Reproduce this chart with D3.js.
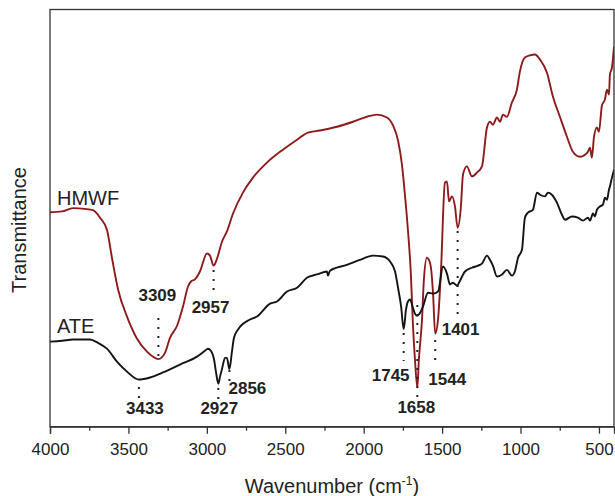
<!DOCTYPE html>
<html>
<head>
<meta charset="utf-8">
<script src="https://cdn.jsdelivr.net/npm/d3@7"></script>
<style>
  html, body { margin: 0; padding: 0; background: #fff; }
  svg { display: block; }
  text { font-family: "Liberation Sans", Arial, Helvetica, sans-serif; }
</style>
</head>
<body>
<svg id="chart" width="615" height="496"></svg>
<script>
// ---------------- DATA ----------------
const xTicks = [4000, 3500, 3000, 2500, 2000, 1500, 1000, 500];
const xMinorTicks = [3750, 3250, 2750, 2250, 1750, 1250, 750];

const hmwfWavenumber = [4000,3923,3853,3777,3726,3681,3637,3605,3566,3509,3445,3382,3331,3309,3267,3235,3190,3152,3120,3101,3076,3044,2999,2980,2957,2935,2903,2872,2833,2770,2706,2617,2515,2425,2355,2279,2170,2068,1979,1915,1852,1813,1781,1756,1737,1718,1699,1686,1673,1658,1648,1628,1616,1597,1584,1571,1558,1544,1526,1507,1482,1469,1456,1437,1418,1401,1380,1367,1342,1310,1278,1246,1214,1195,1176,1150,1131,1112,1087,1055,1023,1004,972,940,908,876,832,793,749,704,666,621,589,570,557,545,532,513,500,481,462,449,436,430,417,404];
const hmwfTransmittance = [51.4,51.6,52.4,52.2,51.9,50.1,47.2,40.5,32.9,26.4,21.1,18.0,16.5,16.2,17.7,21.3,24.2,28.8,33.6,34.8,35.3,37.2,41.5,41.0,38.6,40.3,44.4,46.8,51.1,56.1,59.7,63.3,66.4,68.8,70.5,71.0,71.9,73.1,74.3,74.8,74.1,72.2,68.6,62.8,55.6,47.2,36.5,24.5,16.1,9.4,16.1,25.7,35.3,40.5,40.0,38.1,32.1,22.3,25.7,37.6,58.5,58.8,54.0,55.2,52.8,47.7,52.8,60.4,62.4,60.0,60.9,62.4,71.7,73.1,72.4,74.1,73.1,74.8,74.3,77.7,80.8,85.1,88.5,89.0,89.2,88.0,84.9,79.1,74.3,69.5,65.9,64.7,65.2,65.9,66.9,64.5,69.3,71.7,70.7,77.0,78.4,80.8,79.6,84.4,86.1,91.1];

const ateWavenumber = [4000,3923,3853,3745,3694,3637,3573,3509,3433,3362,3280,3171,3063,3012,2993,2974,2954,2942,2927,2916,2903,2884,2872,2856,2840,2827,2801,2725,2680,2597,2553,2489,2425,2362,2298,2234,2228,2215,2107,2024,1941,1877,1832,1800,1781,1762,1745,1730,1718,1705,1686,1673,1660,1648,1622,1590,1558,1526,1494,1469,1450,1431,1405,1386,1354,1310,1271,1246,1214,1195,1176,1150,1118,1087,1055,1036,1016,991,972,953,921,895,876,844,825,800,768,736,717,672,634,602,570,557,538,526,513,494,475,462,449,436,430,417,404];
const ateTransmittance = [20.4,20.6,20.9,20.9,20.1,18.7,15.6,13.2,11.3,11.8,13.0,14.9,16.8,18.2,18.7,18.2,16.1,13.2,10.3,12.0,13.9,16.5,16.5,13.8,18.0,21.3,23.3,25.7,26.4,29.5,30.0,32.4,33.3,35.7,36.5,37.2,36.2,37.4,38.8,40.0,41.0,40.8,39.6,37.2,33.3,29.0,23.4,28.1,30.0,30.5,28.5,27.1,26.6,26.9,28.8,32.1,31.9,32.4,38.4,36.7,34.1,34.5,33.8,35.0,37.2,38.1,38.6,39.1,41.0,40.0,38.6,36.0,36.5,37.6,36.2,37.2,40.5,42.4,50.1,51.3,52.0,56.1,55.6,55.2,56.1,55.6,53.7,50.8,49.6,50.4,50.1,49.4,50.1,49.4,51.1,50.4,52.0,52.8,53.2,54.9,54.4,56.8,57.6,59.7,61.6];

const seriesNames = ["HMWF", "ATE"];
const peakWavenumbers = [3433, 3309, 2957, 2927, 2856, 1745, 1658, 1544, 1401];
const peakLabels = ["3433", "3309", "2957", "2927", "2856", "1745", "1658", "1544", "1401"];

// ---------------- LAYOUT (pixels, not data) ----------------
const W = 615, H = 496;
const margin = { left: 50, top: 9.5, right: 1, bottom: 69.3 };
const plotR = W - margin.right, plotB = H - margin.bottom;
// dotted guide start/end y and label offsets per peak (same order as peakWavenumbers)
const peakLayout = [
  { y1: 387, y2: 401, dx: 6,   by: 414 },
  { y1: 318, y2: 356, dx: -1,  by: 301 },
  { y1: 270, y2: 294, dx: -3,  by: 313 },
  { y1: 388, y2: 402, dx: 1,   by: 414 },
  { y1: 370, y2: 382, dx: 18,  by: 394 },
  { y1: 333, y2: 361, dx: -13, by: 381 },
  { y1: 305, y2: 398, dx: -1,  by: 413 },
  { y1: 340, y2: 367, dx: 12,  by: 385 },
  { y1: 231, y2: 317, dx: 3,   by: 335 }
];

const svg = d3.select("#chart");

const x = d3.scaleLinear().domain([4000, 404]).range([margin.left, plotR]);
const y = d3.scaleLinear().domain([0, 100]).range([plotB, margin.top]);

const hmwf = hmwfWavenumber.map((w, i) => ({ w, t: hmwfTransmittance[i] }));
const ate = ateWavenumber.map((w, i) => ({ w, t: ateTransmittance[i] }));

const line = d3.line().x(d => x(d.w)).y(d => y(d.t)).curve(d3.curveMonotoneX);

svg.append("defs").append("clipPath").attr("id", "clip")
  .append("rect").attr("x", margin.left).attr("y", margin.top)
  .attr("width", plotR - margin.left).attr("height", plotB - margin.top);

const g = svg.append("g").attr("clip-path", "url(#clip)");

g.append("path").datum(hmwf).attr("d", line)
  .attr("fill", "none").attr("stroke", "#8e1b1b").attr("stroke-width", 1.9)
  .attr("stroke-linejoin", "round");
g.append("path").datum(ate).attr("d", line)
  .attr("fill", "none").attr("stroke", "#141414").attr("stroke-width", 1.9)
  .attr("stroke-linejoin", "round");

// frame
svg.append("rect")
  .attr("x", margin.left).attr("y", margin.top)
  .attr("width", plotR - margin.left).attr("height", plotB - margin.top)
  .attr("fill", "none").attr("stroke", "#333").attr("stroke-width", 1.3);

// x axis
const axis = d3.axisBottom(x).tickValues(xTicks).tickSize(7).tickFormat(d3.format("d"));
const ax = svg.append("g").attr("transform", `translate(0,${plotB})`).call(axis);
ax.select(".domain").attr("stroke", "#333").attr("stroke-width", 1.3);
ax.selectAll(".tick line").attr("stroke", "#333").attr("stroke-width", 1.3);
ax.selectAll(".tick text").attr("y", 28).attr("dy", 0)
  .attr("font-size", 17).attr("fill", "#222")
  .attr("font-family", '"Liberation Sans", Arial, sans-serif');

const minor = d3.axisBottom(x).tickValues(xMinorTicks).tickSize(4).tickFormat("");
const mx = svg.append("g").attr("transform", `translate(0,${plotB})`).call(minor);
mx.select(".domain").remove();
mx.selectAll(".tick line").attr("stroke", "#333").attr("stroke-width", 1.3);

// axis titles
const xt = svg.append("text").attr("x", 332).attr("y", 493)
  .attr("text-anchor", "middle").attr("font-size", 20).attr("fill", "#222");
xt.append("tspan").text("Wavenumber (cm");
xt.append("tspan").text("-1").attr("font-size", 12).attr("dy", -8);
xt.append("tspan").text(")").attr("dy", 8);

svg.append("text")
  .attr("transform", "translate(26,230) rotate(-90)")
  .attr("text-anchor", "middle").attr("font-size", 20).attr("fill", "#222")
  .text("Transmittance");

// series labels
svg.append("text").attr("x", 57).attr("y", 205).attr("font-size", 20).attr("fill", "#222").text(seriesNames[0]);
svg.append("text").attr("x", 57).attr("y", 333).attr("font-size", 20).attr("fill", "#222").text(seriesNames[1]);

// peak markers
peakWavenumbers.forEach((w, i) => {
  const L = peakLayout[i];
  const px = x(w);
  svg.append("line")
    .attr("x1", px).attr("x2", px).attr("y1", L.y1).attr("y2", L.y2)
    .attr("stroke", "#222").attr("stroke-width", 2)
    .attr("stroke-dasharray", "2,7");
  svg.append("text")
    .attr("x", px + L.dx).attr("y", L.by)
    .attr("text-anchor", "middle")
    .attr("font-size", 17).attr("font-weight", "bold").attr("fill", "#222")
    .text(peakLabels[i]);
});
</script>
</body>
</html>
